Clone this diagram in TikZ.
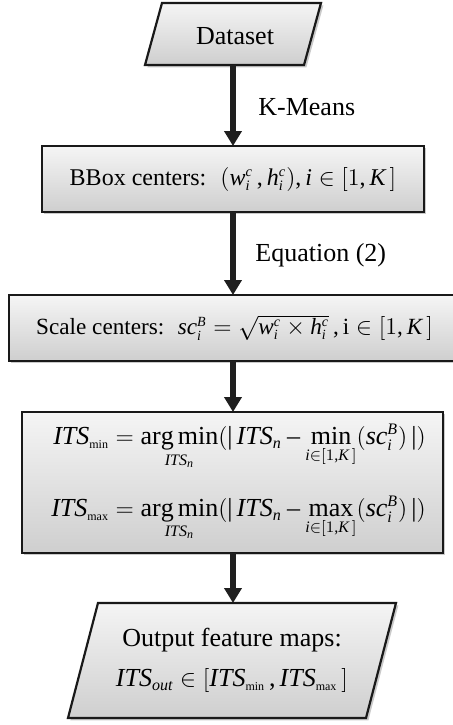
\documentclass[tikz,border=0pt]{standalone}
\usepackage{amsmath}
\usepackage{fontspec}
\setmainfont{Liberation Serif}
\usepackage[italic]{mathastext}
\DeclareMathSizes{13}{13}{8}{6}
\DeclareMathSizes{12}{12}{7.2}{5.5}
\DeclareMathSizes{11.6}{11.6}{7}{5.3}
\usetikzlibrary{shadows,arrows.meta}
\newcommand{\sub}[1]{{\scriptscriptstyle\mathrm{#1}}}
\begin{document}
\begin{tikzpicture}[x=0.5pt,y=-0.5pt,
  boxstyle/.style={draw=black!90, line width=1.1pt, top color=gray!8, bottom color=gray!38,
    drop shadow={shadow xshift=1.2pt,shadow yshift=-1.2pt,opacity=0.35,fill=black!60}},
  arr/.style={line width=2.8pt, draw=black!88, -{Triangle[width=8.5pt,length=7.5pt]}},
  txt/.style={font=\fontsize{13}{15}\selectfont},
  stxt/.style={font=\fontsize{12}{14}\selectfont},
  sstxt/.style={font=\fontsize{11.6}{14}\selectfont},
  lbl/.style={txt, anchor=west, inner sep=0pt},
  ghost/.style={inner sep=0pt, outer sep=0pt}]
\useasboundingbox (0,0) rectangle (453,725);
% Dataset
\node[ghost, minimum width=79.5pt, minimum height=31pt] (ds) at (233,34) {};
\path[boxstyle] ([xshift=-4.25pt]ds.south west) -- ([xshift=4.25pt]ds.north west)
  -- ([xshift=4.25pt]ds.north east) -- ([xshift=-4.25pt]ds.south east) -- cycle;
\node[txt] (dstext) at ([xshift=1pt,yshift=-1pt]ds.center) {Dataset};
% BBox centers
\node[boxstyle, stxt, ghost, minimum width=191pt, minimum height=33pt] (b2) at (233,179)
  {BBox centers: \ $(w_i^c\,, h_i^c), i\in[1,K\,]$\hspace{4pt}};
% Scale centers
\node[boxstyle, sstxt, ghost, minimum width=225.5pt, minimum height=33pt] (b3) at (234.5,328)
  {Scale centers: \ $sc_i^B = \sqrt{w_i^c\times h_i^c}\,,\mathrm{i}\in[1,K\,]$\hspace{8.5pt}};
% ITS min/max
\node[boxstyle, txt, ghost, minimum width=210.5pt, minimum height=70.5pt] (b4) at (232.5,482.5)
  {\hspace{6pt}$\displaystyle\begin{aligned}
  ITS_{\sub{min}} &= \mathop{\mathrm{arg\,min}}_{ITS_n}(|\,ITS_n - \mathop{\mathrm{min}}_{i\in[1,K\,]}(sc_i^B)\,|)\\[9pt]
  ITS_{\sub{max}} &= \mathop{\mathrm{arg\,min}}_{ITS_n}(|\,ITS_n - \mathop{\mathrm{max}}_{i\in[1,K\,]}(sc_i^B)\,|)
  \end{aligned}$};
% Output
\node[ghost, minimum width=149pt, minimum height=57.5pt] (out) at (232,660.5) {};
\path[boxstyle] ([xshift=-7.5pt]out.south west) -- ([xshift=7.5pt]out.north west)
  -- ([xshift=7.5pt]out.north east) -- ([xshift=-7.5pt]out.south east) -- cycle;
\node[txt, align=center] (outtext) at (out.center)
  {Output feature maps:\\[5pt] $ITS_{out}\in[ITS_{\sub{min}}\,,ITS_{\sub{max}}\,]$};
% connectors
\draw[arr] (ds.south) -- (b2.north);
\draw[arr] (b2.south) -- (b2.south |- b3.north);
\draw[arr] (b2.south |- b3.south) -- (b2.south |- b4.north);
\draw[arr] (b2.south |- b4.south) -- (b2.south |- out.north);
% labels
\node[lbl] (km) at (258,107) {K-Means};
\node[lbl] (eq) at (255,255) {Equation (2)};
\end{tikzpicture}
\end{document}
